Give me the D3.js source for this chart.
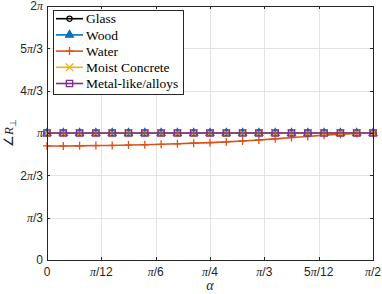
<!DOCTYPE html>
<html>
<head>
<meta charset="utf-8">
<script src="https://cdn.jsdelivr.net/npm/d3@7"></script>
<style>
  body { margin: 0; background: #fff; }
  svg { display: block; }
</style>
</head>
<body>
<div id="wrapper"></div>
<script>
// alpha sample index, alpha = idx * pi / 40
const alphaIdx = [0, 1, 2, 3, 4, 5, 6, 7, 8, 9, 10, 11, 12, 13, 14, 15, 16, 17, 18, 19, 20];
// phase of R_perp, in units of pi
const glassPhase = [1, 1, 1, 1, 1, 1, 1, 1, 1, 1, 1, 1, 1, 1, 1, 1, 1, 1, 1, 1, 1];
const woodPhase = [1, 1, 1, 1, 1, 1, 1, 1, 1, 1, 1, 1, 1, 1, 1, 1, 1, 1, 1, 1, 1];
const waterPhase = [0.898, 0.898, 0.899, 0.901, 0.902, 0.905, 0.907, 0.911, 0.915, 0.920,
  0.924, 0.930, 0.937, 0.945, 0.954, 0.964, 0.973, 0.983, 0.991, 0.997, 1];
const concretePhase = [1, 1, 1, 1, 1, 1, 1, 1, 1, 1, 1, 1, 1, 1, 1, 1, 1, 1, 1, 1, 1];
const metalPhase = [1, 1, 1, 1, 1, 1, 1, 1, 1, 1, 1, 1, 1, 1, 1, 1, 1, 1, 1, 1, 1];

const seriesNames = ["Glass", "Wood", "Water", "Moist Concrete", "Metal-like/alloys"];
const seriesColors = ["#000000", "#0072BD", "#D95319", "#EDB120", "#7E2F8E"];
const seriesMarkers = ["circle", "triangle", "plus", "cross", "square"];

const xTickVals = [0, 1, 2, 3, 4, 5, 6]; // multiples of pi/12
const xTickLabels = ["0", "π/12", "π/6", "π/4", "π/3", "5π/12", "π/2"];
const yTickVals = [0, 1, 2, 3, 4, 5, 6]; // multiples of pi/3
const yTickLabels = ["0", "π/3", "2π/3", "π", "4π/3", "5π/3", "2π"];

function drawChart() {
  const dims = { width: 382, height: 294, left: 47, right: 373, top: 6, bottom: 260 };

  const svg = d3.select("#wrapper").append("svg")
    .attr("width", dims.width)
    .attr("height", dims.height);

  const x = d3.scaleLinear().domain([0, Math.PI / 2]).range([dims.left, dims.right]);
  const y = d3.scaleLinear().domain([0, 2 * Math.PI]).range([dims.bottom, dims.top]);

  // grid
  const grid = svg.append("g").attr("stroke", "#e3e3e3").attr("stroke-width", 1);
  xTickVals.forEach((t) => {
    const px = Math.round(x(t * Math.PI / 12)) + 0.5;
    grid.append("line").attr("x1", px).attr("x2", px).attr("y1", dims.top).attr("y2", dims.bottom);
  });
  yTickVals.forEach((t) => {
    const py = Math.round(y(t * Math.PI / 3)) + 0.5;
    grid.append("line").attr("x1", dims.left).attr("x2", dims.right).attr("y1", py).attr("y2", py);
  });

  // series
  const sData = [glassPhase, woodPhase, waterPhase, concretePhase, metalPhase];
  const line = d3.line()
    .x((d, i) => x(alphaIdx[i] * Math.PI / 40))
    .y((d) => y(d * Math.PI));

  const symType = {
    circle: d3.symbolCircle,
    triangle: d3.symbolTriangle,
    plus: d3.symbolCross,
    cross: d3.symbolX,
    square: d3.symbolSquare,
  };
  const symSize = { circle: 22, triangle: 26, plus: 0, cross: 40, square: 40 };

  function marker(g, kind, color) {
    if (kind === "plus") {
      g.append("path").attr("d", "M-4,0H4M0,-4V4").attr("stroke", color)
        .attr("stroke-width", 1.3).attr("fill", "none");
    } else {
      g.append("path").attr("d", d3.symbol(symType[kind], symSize[kind])())
        .attr("fill", kind === "triangle" ? color : "none")
        .attr("stroke", color).attr("stroke-width", 1.3);
    }
  }

  sData.forEach((vals, k) => {
    const g = svg.append("g");
    g.append("path").datum(vals).attr("d", line)
      .attr("fill", "none").attr("stroke", seriesColors[k]).attr("stroke-width", 1.6);
    vals.forEach((v, i) => {
      const mg = g.append("g")
        .attr("transform", `translate(${x(alphaIdx[i] * Math.PI / 40)},${y(v * Math.PI)})`);
      marker(mg, seriesMarkers[k], seriesColors[k]);
    });
  });

  // box + ticks
  const axis = svg.append("g").attr("stroke", "#262626").attr("stroke-width", 1).attr("fill", "none");
  axis.append("rect")
    .attr("x", dims.left + 0.5).attr("y", dims.top + 0.5)
    .attr("width", dims.right - dims.left).attr("height", dims.bottom - dims.top);
  xTickVals.forEach((t) => {
    const px = Math.round(x(t * Math.PI / 12)) + 0.5;
    axis.append("line").attr("x1", px).attr("x2", px).attr("y1", dims.bottom).attr("y2", dims.bottom - 3);
    axis.append("line").attr("x1", px).attr("x2", px).attr("y1", dims.top).attr("y2", dims.top + 3);
  });
  yTickVals.forEach((t) => {
    const py = Math.round(y(t * Math.PI / 3)) + 0.5;
    axis.append("line").attr("x1", dims.left).attr("x2", dims.left + 3).attr("y1", py).attr("y2", py);
    axis.append("line").attr("x1", dims.right).attr("x2", dims.right - 3).attr("y1", py).attr("y2", py);
  });

  // tick label with italic serif pi
  function piLabel(sel, str) {
    str.split(/(π)/).forEach((part) => {
      if (!part) return;
      const ts = sel.append("tspan").text(part);
      if (part === "π") ts.attr("font-family", "Liberation Serif, serif").attr("font-style", "italic");
    });
  }

  const labels = svg.append("g").attr("font-family", "Liberation Sans, Arial, sans-serif")
    .attr("font-size", 12).attr("fill", "#262626");
  xTickVals.forEach((t, i) => {
    const tx = labels.append("text").attr("x", x(t * Math.PI / 12)).attr("y", dims.bottom + 16)
      .attr("text-anchor", "middle");
    piLabel(tx, xTickLabels[i]);
  });
  yTickVals.forEach((t, i) => {
    const tx = labels.append("text").attr("x", dims.left - 4).attr("y", y(t * Math.PI / 3)).attr("dy", "0.35em")
      .attr("text-anchor", "end");
    piLabel(tx, yTickLabels[i]);
  });

  // axis titles
  svg.append("text").attr("x", (dims.left + dims.right) / 2).attr("y", 290)
    .attr("text-anchor", "middle").attr("font-family", "Liberation Serif, serif")
    .attr("font-style", "italic").attr("font-size", 14).attr("fill", "#262626").text("α");
  const yl = svg.append("text")
    .attr("transform", `translate(13,${y(Math.PI)}) rotate(-90)`)
    .attr("text-anchor", "middle").attr("font-family", "Liberation Serif, serif")
    .attr("font-size", 13).attr("fill", "#262626");
  yl.append("tspan").text("∠");
  yl.append("tspan").attr("font-style", "italic").text("R");
  yl.append("tspan").attr("font-size", 9).attr("dy", 3).text("⊥");

  // legend
  const legend = svg.append("g");
  legend.append("rect").attr("x", 53.5).attr("y", 10.5).attr("width", 130).attr("height", 84)
    .attr("fill", "#fff").attr("stroke", "#262626").attr("stroke-width", 1);
  seriesNames.forEach((name, k) => {
    const ly = 18.7 + k * 16.2;
    const lg = legend.append("g");
    lg.append("line").attr("x1", 56).attr("x2", 83).attr("y1", ly).attr("y2", ly)
      .attr("stroke", seriesColors[k]).attr("stroke-width", 1.6);
    const mg = lg.append("g").attr("transform", `translate(69.5,${ly})`);
    marker(mg, seriesMarkers[k], seriesColors[k]);
    lg.append("text").attr("x", 86).attr("y", ly).attr("dy", "0.35em")
      .attr("font-family", "Liberation Serif, serif").attr("font-size", 13.5)
      .attr("fill", "#000").text(name);
  });
}

drawChart();
</script>
</body>
</html>
